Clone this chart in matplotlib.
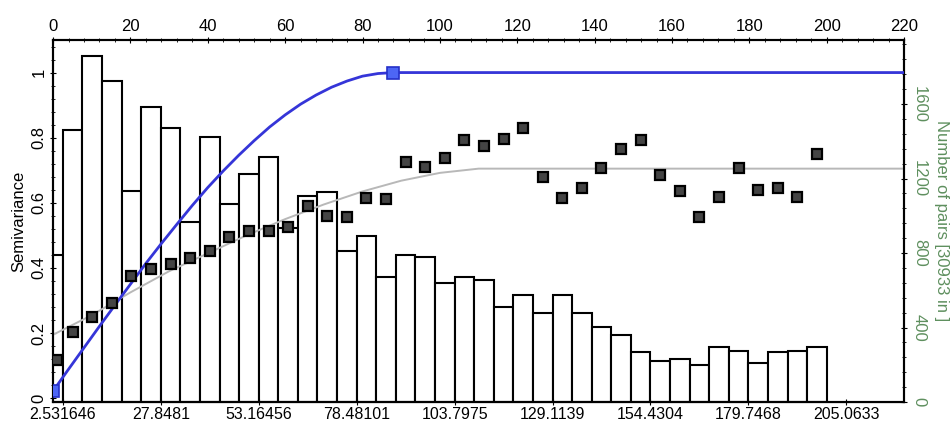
import matplotlib
matplotlib.use('Agg')
import matplotlib.pyplot as plt
from matplotlib.ticker import MultipleLocator

plt.rcParams['font.family'] = ['Liberation Sans', 'DejaVu Sans']

# lag classes (bin centres) and class width
bin_width = 5.0633
bin_centers = [0.0, 5.06, 10.13, 15.19, 20.25, 25.32, 30.38, 35.44, 40.51, 45.57,
               50.63, 55.70, 60.76, 65.82, 70.89, 75.95, 81.01, 86.08, 91.14, 96.20,
               101.27, 106.33, 111.39, 116.46, 121.52, 126.58, 131.65, 136.71, 141.77, 146.84,
               151.90, 156.96, 162.03, 167.09, 172.15, 177.22, 182.28, 187.34, 192.41, 197.47]
lag_mean = [1.1] + bin_centers[1:]

# number of pairs per class
pairs = [789, 1460, 1859, 1725, 1135, 1582, 1469, 968, 1425, 1063,
         1224, 1314, 932, 1108, 1126, 811, 891, 669, 789, 780,
         637, 669, 655, 512, 574, 476, 574, 476, 401, 360,
         270, 222, 229, 199, 294, 275, 208, 270, 275, 294]

# experimental semivariance
semivar = [0.116, 0.202, 0.251, 0.292, 0.376, 0.398, 0.413, 0.430, 0.453, 0.495,
           0.514, 0.514, 0.525, 0.591, 0.561, 0.555, 0.614, 0.611, 0.725, 0.711,
           0.739, 0.794, 0.776, 0.795, 0.831, 0.678, 0.614, 0.647, 0.707, 0.766,
           0.794, 0.684, 0.635, 0.555, 0.619, 0.707, 0.638, 0.647, 0.619, 0.750]

# fitted model (blue)
model_x = [0, 4, 8, 12, 16, 20, 24, 28, 32, 36, 40, 44, 48, 52, 56, 60, 64, 68, 72, 76, 80, 84, 88, 220]
model_y = [0.022, 0.089, 0.155, 0.221, 0.286, 0.350, 0.414, 0.475, 0.534, 0.592, 0.647,
           0.698, 0.746, 0.791, 0.833, 0.870, 0.903, 0.931, 0.955, 0.974, 0.989, 0.997, 1.0, 1.0]
handle_x = [0, 88]
handle_y = [0.022, 1.0]

# second model (grey)
grey_x = [0, 10, 20, 30, 40, 50, 60, 70, 80, 90, 100, 110, 220]
grey_y = [0.195, 0.255, 0.325, 0.39, 0.445, 0.50, 0.55, 0.595, 0.635, 0.668, 0.692, 0.705, 0.705]

bottom_ticks = [2.531646, 27.8481, 53.16456, 78.48101, 103.7975, 129.1139, 154.4304, 179.7468, 205.0633]
bottom_labels = ['2.531646', '27.8481', '53.16456', '78.48101', '103.7975',
                 '129.1139', '154.4304', '179.7468', '205.0633']

green = '#5e8f5e'

fig = plt.figure(figsize=(9.52, 4.25), dpi=100)
ax = fig.add_axes([0.0557, 0.0541, 0.894, 0.8518])
ax2 = ax.twinx()

# histogram of pairs on the right axis
ax2.bar(bin_centers, pairs, width=bin_width, facecolor='white', edgecolor='black', linewidth=1.5)
ax2.set_ylim(0, 1944)
ax2.yaxis.set_major_locator(MultipleLocator(400))
ax2.yaxis.set_minor_locator(MultipleLocator(80))
ax2.tick_params(axis='y', which='major', direction='inout', length=5, colors='black',
                labelcolor=green, labelsize=12, labelrotation=-90, pad=3)
ax2.tick_params(axis='y', which='minor', direction='inout', length=3)
for t in ax2.get_yticklabels():
    t.set_va('center')
ax2.set_ylabel('Number of pairs [30933 in ]', color=green, fontsize=12, rotation=-90, labelpad=16)

# semivariance on the main axis, drawn above the bars
ax.set_zorder(ax2.get_zorder() + 1)
ax.patch.set_visible(False)
ax.plot(grey_x, grey_y, color='#b8b8b8', linewidth=1.4, zorder=2)
ax.plot(model_x, model_y, color='#3535d8', linewidth=2, zorder=3)
ax.plot(handle_x, handle_y, linestyle='none', marker='s', markersize=9,
        markerfacecolor='#4d66f5', markeredgecolor='#2530c8', markeredgewidth=1.2, zorder=4)
ax.plot(lag_mean, semivar, linestyle='none', marker='s', markersize=7,
        markerfacecolor='#444444', markeredgecolor='black', markeredgewidth=1.6, zorder=5)

ax.set_xlim(0, 220)
ax.set_ylim(-0.0115, 1.10)
ax.xaxis.tick_top()
ax.xaxis.set_major_locator(MultipleLocator(20))
ax.xaxis.set_minor_locator(MultipleLocator(4))
ax.tick_params(axis='x', which='major', direction='inout', length=5, labelsize=12, pad=2)
ax.tick_params(axis='x', which='minor', direction='inout', length=3)
ax.yaxis.set_minor_locator(MultipleLocator(0.04))
ax.set_yticks([0, 0.2, 0.4, 0.6, 0.8, 1.0])
ax.set_yticklabels(['0', '0.2', '0.4', '0.6', '0.8', '1'])
ax.tick_params(axis='y', which='major', direction='inout', length=5, labelsize=12,
               labelrotation=90, pad=2)
ax.tick_params(axis='y', which='minor', direction='inout', length=3)
for t in ax.get_yticklabels():
    t.set_va('center')
ax.set_ylabel('Semivariance', fontsize=12, labelpad=4)

# lag class labels along the bottom
sec = ax.secondary_xaxis('bottom')
sec.set_xticks(bottom_ticks)
sec.set_xticklabels(bottom_labels)
sec.tick_params(direction='inout', length=5, labelsize=11.5, pad=1)

for a in (ax, ax2):
    for s in a.spines.values():
        s.set_linewidth(1.5)

fig.savefig('out.png', dpi=100)
